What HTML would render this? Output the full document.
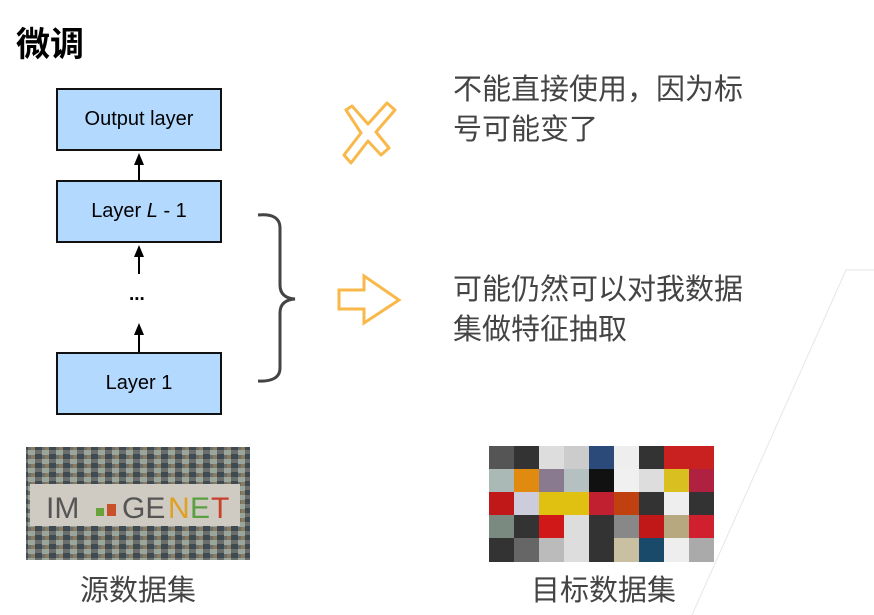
<!DOCTYPE html>
<html><head><meta charset="utf-8"><style>
body{margin:0;width:874px;height:615px;background:#fff;overflow:hidden;position:relative;font-family:"Liberation Sans","Noto Sans CJK SC",sans-serif}
.t{position:absolute;color:#444;font-size:29px;line-height:40px;font-family:"Liberation Sans","Noto Sans CJK SC",sans-serif;white-space:nowrap}
.box{position:absolute;left:56px;width:162px;height:59px;background:#b3d9ff;border:2px solid #111;display:flex;align-items:center;justify-content:center;font-size:20px;color:#000}
</style></head><body>
<div style="position:absolute;left:16px;top:17px;font-size:34px;font-weight:bold;color:#000">微调</div>
<div class="box" style="top:88px">Output layer</div>
<div class="box" style="top:180px">Layer&nbsp;<i>L</i>&nbsp;- 1</div>
<div class="box" style="top:352px">Layer 1</div>
<div style="position:absolute;left:129px;top:284px;font-size:19px;font-weight:bold">...</div>
<svg width="874" height="615" style="position:absolute;left:0;top:0">
<g stroke="#000" stroke-width="2" fill="#000">
<line x1="139" y1="180" x2="139" y2="160"/><polygon points="134,165 139,153 144,165" stroke="none"/>
<line x1="139" y1="274" x2="139" y2="252"/><polygon points="134,257 139,245 144,257" stroke="none"/>
<line x1="139" y1="352" x2="139" y2="330"/><polygon points="134,335 139,323 144,335" stroke="none"/>
</g>
<path d="M258,215 Q280,213 280,228 L280,285 Q280,298 295,299 Q280,300 280,313 L280,368 Q280,382 258,381" fill="none" stroke="#444" stroke-width="3"/>
<path d="M346,110 L352,106 L368,124 L387,103 L395,110 L376,132 L389,148 L381,155 L368,141 L351,163 L344,155 L361,133 Z" fill="none" stroke="#f8b84a" stroke-width="3" stroke-linejoin="round"/>
<path d="M339,290 L364,290 L364,276 L399,300 L364,323 L364,309 L339,309 Z" fill="none" stroke="#f8b84a" stroke-width="3"/>
<path d="M874,270 L846,270 L692,615" fill="none" stroke="#e6e6e6" stroke-width="1"/>
<defs>
<pattern id="m" width="14" height="9" patternUnits="userSpaceOnUse">
<rect width="14" height="9" fill="#6b6e6a"/><rect width="7" height="5" fill="#9aa59c"/><rect x="7" y="4" width="7" height="5" fill="#3e4b52"/><rect x="3" y="5" width="4" height="4" fill="#8a7a5e"/>
</pattern>
</defs>
<rect x="26" y="447" width="224" height="113" fill="url(#m)"/>
<rect x="30" y="484" width="210" height="42" fill="#cfcac2"/>
<text x="46" y="518" font-family="Liberation Sans" font-size="30" fill="#555">IM</text>
<rect x="96" y="508" width="8" height="8" fill="#6aa33a"/><rect x="107" y="504" width="9" height="12" fill="#c8502a"/>
<text x="122" y="518" font-family="Liberation Sans" font-size="30" fill="#555">GE</text>
<text x="168" y="518" font-family="Liberation Sans" font-size="30" fill="#e0a020">N</text>
<text x="190" y="518" font-family="Liberation Sans" font-size="30" fill="#5aa040">E</text>
<text x="211" y="518" font-family="Liberation Sans" font-size="30" fill="#c8402a">T</text>
<g>
<rect x="489" y="446" width="225" height="116" fill="#333"/>
<rect x="489" y="446" width="25" height="23" fill="#555"/><rect x="539" y="446" width="25" height="23" fill="#ddd"/><rect x="564" y="446" width="25" height="23" fill="#ccc"/><rect x="589" y="446" width="25" height="23" fill="#2b4a7a"/><rect x="614" y="446" width="25" height="23" fill="#eee"/><rect x="664" y="446" width="50" height="23" fill="#c92020"/>
<rect x="489" y="469" width="25" height="23" fill="#aab9b5"/><rect x="514" y="469" width="25" height="23" fill="#e08a10"/><rect x="539" y="469" width="25" height="23" fill="#8a7a90"/><rect x="564" y="469" width="25" height="23" fill="#b5c0c0"/><rect x="589" y="469" width="25" height="23" fill="#111"/><rect x="614" y="469" width="25" height="23" fill="#f0f0f0"/><rect x="639" y="469" width="25" height="23" fill="#ddd"/><rect x="664" y="469" width="25" height="23" fill="#d9c020"/><rect x="689" y="469" width="25" height="23" fill="#b02040"/>
<rect x="489" y="492" width="25" height="23" fill="#c01818"/><rect x="514" y="492" width="25" height="23" fill="#ccd"/><rect x="539" y="492" width="50" height="23" fill="#e0c010"/><rect x="589" y="492" width="25" height="23" fill="#c02030"/><rect x="614" y="492" width="25" height="23" fill="#c04010"/><rect x="664" y="492" width="25" height="23" fill="#eee"/>
<rect x="489" y="515" width="25" height="23" fill="#7a8a80"/><rect x="539" y="515" width="25" height="23" fill="#d01818"/><rect x="564" y="515" width="25" height="23" fill="#ddd"/><rect x="614" y="515" width="25" height="23" fill="#888"/><rect x="639" y="515" width="25" height="23" fill="#c01818"/><rect x="664" y="515" width="25" height="23" fill="#b8a880"/><rect x="689" y="515" width="25" height="23" fill="#d02030"/>
<rect x="514" y="538" width="25" height="24" fill="#666"/><rect x="539" y="538" width="25" height="24" fill="#bbb"/><rect x="564" y="538" width="25" height="24" fill="#ddd"/><rect x="614" y="538" width="25" height="24" fill="#c8c0a0"/><rect x="639" y="538" width="25" height="24" fill="#1a4a6a"/><rect x="664" y="538" width="25" height="24" fill="#eee"/><rect x="689" y="538" width="25" height="24" fill="#aaa"/>
</g>
</svg>
<div class="t" style="left:453px;top:70px">不能直接使用，因为标<br>号可能变了</div>
<div class="t" style="left:453px;top:270px">可能仍然可以对我数据<br>集做特征抽取</div>
<div class="t" style="left:80px;top:571px;font-size:29px">源数据集</div>
<div class="t" style="left:531px;top:571px;font-size:29px">目标数据集</div>
</body></html>
